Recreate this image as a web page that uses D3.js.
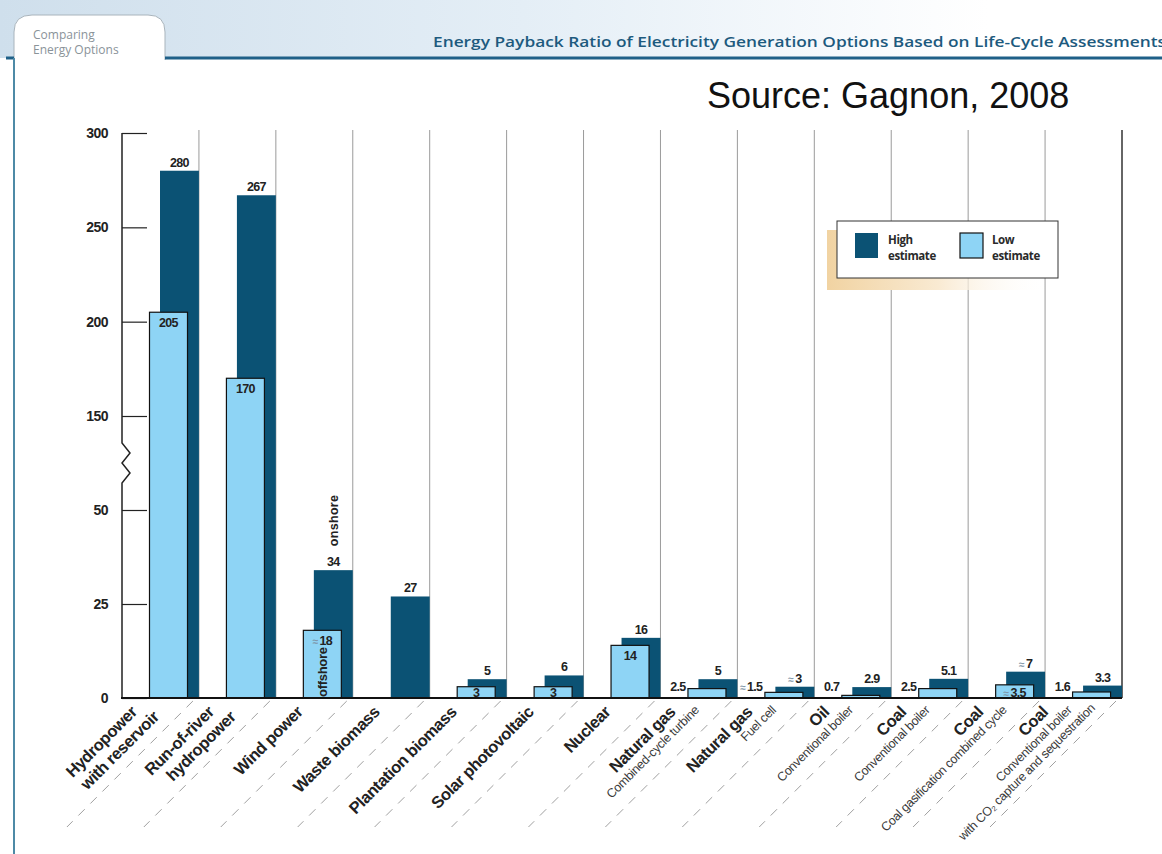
<!DOCTYPE html>
<meta charset="utf-8">
<script src="https://d3js.org/d3.v7.min.js"></script>
<style>
    body { margin: 0; background: #fff; }
    text { font-family: "Liberation Sans", Arial, sans-serif; }
</style>
<div id="vis"></div>
<script>
    // data
    var categories = ["hydroRes", "runRiver", "wind", "wasteBio", "plantBio", "solarPV",
        "nuclear", "gasCC", "gasFC", "oil", "coal", "coalIGCC", "coalCCS"];
    var titleLines = [["Hydropower", "with reservoir"], ["Run-of-river", "hydropower"], ["Wind power"],
        ["Waste biomass"], ["Plantation biomass"], ["Solar photovoltaic"], ["Nuclear"],
        ["Natural gas"], ["Natural gas"], ["Oil"], ["Coal"], ["Coal"], ["Coal"]];
    var subLines = [[], [], [], [], [], [], [], ["Combined-cycle turbine"], ["Fuel cell"],
        ["Conventional boiler"], ["Conventional boiler"], ["Coal gasification combined cycle"],
        ["Conventional boiler", "with CO\u2082 capture and sequestration"]];
    var highValues = [280, 267, 34, 27, 5, 6, 16, 5, 3, 2.9, 5.1, 7, 3.3];
    var lowValues = [205, 170, 18, null, 3, 3, 14, 2.5, 1.5, 0.7, 2.5, 3.5, 1.6];
    var highApprox = [0, 0, 0, 0, 0, 0, 0, 0, 1, 0, 0, 1, 0];
    var lowApprox = [0, 0, 1, 0, 0, 0, 0, 0, 1, 0, 0, 1, 0];
    var yTicks = [0, 25, 50, 150, 200, 250, 300];

    var dark = "#0b5274", light = "#8ed4f5";

    var W = 1162, H = 854;
    var svg = d3.select("#vis").append("svg")
        .attr("width", W).attr("height", H);
    var defs = svg.append("defs");

    // header
    var hg = defs.append("linearGradient").attr("id", "sky");
    hg.append("stop").attr("offset", "0").attr("stop-color", "#cfdfec");
    hg.append("stop").attr("offset", "0.45").attr("stop-color", "#e4eef6");
    hg.append("stop").attr("offset", "0.85").attr("stop-color", "#ffffff");
    svg.append("rect").attr("x", 0).attr("y", 0).attr("width", W).attr("height", 58)
        .attr("fill", "url(#sky)");
    svg.append("path")
        .attr("d", "M14,60 L14,32 Q14,15 32,15 L148,15 Q165,15 165,32 L165,60")
        .attr("fill", "#fff").attr("stroke", "#a9b4bc").attr("stroke-width", 1);
    svg.append("line").attr("x1", 165).attr("x2", W).attr("y1", 58).attr("y2", 58)
        .attr("stroke", "#1f6088").attr("stroke-width", 3);
    svg.append("line").attr("x1", 6).attr("x2", 14).attr("y1", 58).attr("y2", 58)
        .attr("stroke", "#1f6088").attr("stroke-width", 3);
    svg.append("line").attr("x1", 14).attr("x2", 14).attr("y1", 58).attr("y2", H)
        .attr("stroke", "#4d8aa6").attr("stroke-width", 2);
    svg.append("text").attr("x", 33).attr("y", 39).text("Comparing")
        .style("font-family", "Open Sans").style("font-size", "12px").attr("fill", "#8a9399");
    svg.append("text").attr("x", 33).attr("y", 54).text("Energy Options")
        .style("font-family", "Open Sans").style("font-size", "12px").attr("fill", "#8a9399");
    svg.append("text").attr("x", 433).attr("y", 47)
        .text("Energy Payback Ratio of Electricity Generation Options Based on Life-Cycle Assessments")
        .attr("textLength", 733).attr("lengthAdjust", "spacingAndGlyphs")
        .style("font-family", "Open Sans").style("font-weight", 600).style("font-size", "15px")
        .attr("fill", "#1d5a7e");
    svg.append("text").attr("x", 707).attr("y", 108).text("Source: Gagnon, 2008")
        .style("font-size", "36px").attr("fill", "#111");

    // scales
    var x = d3.scaleBand().domain(categories).range([122, 1122]).padding(0);
    var bw = x.bandwidth();
    var y = d3.scaleLinear().domain([0, 50, 150, 300]).range([698, 510, 416, 133]);

    // vertical grid lines at the right edge of each band
    svg.append("g").selectAll("line").data(categories).enter().append("line")
        .attr("x1", function (d) { return x(d) + bw; })
        .attr("x2", function (d) { return x(d) + bw; })
        .attr("y1", 130).attr("y2", 698)
        .attr("stroke", function (d, i) { return i == categories.length - 1 ? "#333" : "#9a9a9a"; })
        .attr("stroke-width", function (d, i) { return i == categories.length - 1 ? 1.5 : 1; });

    // legend
    var lg = defs.append("linearGradient").attr("id", "shadow");
    lg.append("stop").attr("offset", "0").attr("stop-color", "#f1d3a2");
    lg.append("stop").attr("offset", "0.5").attr("stop-color", "#f9ead2");
    lg.append("stop").attr("offset", "1").attr("stop-color", "#fff").attr("stop-opacity", 0);
    svg.append("rect").attr("x", 827).attr("y", 230).attr("width", 222).attr("height", 60)
        .attr("fill", "url(#shadow)");
    svg.append("rect").attr("x", 837).attr("y", 221).attr("width", 221).attr("height", 57)
        .attr("fill", "#fff").attr("stroke", "#333").attr("stroke-width", 1);
    var legendItems = [["High", "estimate", dark, 855, 888], ["Low", "estimate", light, 960, 992]];
    legendItems.forEach(function (it) {
        svg.append("rect").attr("x", it[3]).attr("y", 233).attr("width", 23).attr("height", 25)
            .attr("fill", it[2]).attr("stroke", it[2] == light ? "#111" : "none").attr("stroke-width", 1.2);
        [it[0], it[1]].forEach(function (t, k) {
            svg.append("text").attr("x", it[4]).attr("y", 244 + k * 16).text(t)
                .style("font-family", "Open Sans").style("font-weight", 700).style("font-size", "11.5px")
                .style("letter-spacing", "-0.4px").attr("fill", "#2a2a2a");
        });
    });

    // bars
    var rows = categories.map(function (c, i) {
        return { c: c, hi: highValues[i], lo: lowValues[i], hiA: highApprox[i], loA: lowApprox[i] };
    });
    var gBars = svg.append("g");
    gBars.selectAll(".hi").data(rows).enter().append("rect").attr("class", "hi")
        .attr("x", function (d) { return x(d.c) + 38; })
        .attr("width", bw - 38)
        .attr("y", function (d) { return y(d.hi); })
        .attr("height", function (d) { return y(0) - y(d.hi); })
        .attr("fill", dark);
    gBars.selectAll(".lo").data(rows.filter(function (d) { return d.lo != null; })).enter()
        .append("rect").attr("class", "lo")
        .attr("x", function (d) { return x(d.c) + 27.5; })
        .attr("width", 38)
        .attr("y", function (d) { return y(d.lo); })
        .attr("height", function (d) { return y(0) - y(d.lo); })
        .attr("fill", light).attr("stroke", "#111").attr("stroke-width", 1.2);

    function addValue(sel, approx, val) {
        if (approx) {
            sel.append("tspan").text("\u2248 ").attr("fill", "#7d93a6").style("font-size", "10px");
        }
        sel.append("tspan").text(val);
    }

    // value labels
    rows.forEach(function (d) {
        var t = svg.append("text")
            .attr("x", x(d.c) + 38 + (bw - 38) / 2)
            .attr("y", y(d.hi) - 4)
            .attr("text-anchor", "middle")
            .style("font-weight", "bold").style("font-size", "12.5px").style("letter-spacing", "-0.7px")
            .attr("fill", "#222");
        addValue(t, d.hiA, d.hi);
        if (d.lo == null) return;
        var lt = svg.append("text")
            .style("font-weight", "bold").style("font-size", "12.5px").style("letter-spacing", "-0.7px")
            .attr("fill", "#222");
        if (d.lo >= 3) {
            lt.attr("x", x(d.c) + 27.5 + 19).attr("text-anchor", "middle")
                .attr("y", Math.min(y(d.lo) + 15, 697));
        } else {
            lt.attr("x", x(d.c) + 25).attr("text-anchor", "end").attr("y", 691);
        }
        addValue(lt, d.loA, d.lo);
    });

    // onshore / offshore notes on the wind bars
    svg.append("text").attr("transform", "translate(" + (x("wind") + 62) + "," + (y(34) - 24) + ") rotate(-90)")
        .text("onshore").style("font-weight", "bold").style("font-size", "12.5px")
        .style("letter-spacing", "0.3px").attr("fill", "#222");
    svg.append("text").attr("transform", "translate(" + (x("wind") + 51) + "," + 697 + ") rotate(-90)")
        .text("offshore").style("font-weight", "bold").style("font-size", "13px")
        .style("letter-spacing", "-0.3px").attr("fill", "#222");

    // y axis with break
    var yAxis = d3.axisLeft(y).tickValues(yTicks).tickSizeInner(-25).tickSizeOuter(0).tickPadding(14);
    var ga = svg.append("g").attr("transform", "translate(122,0)").call(yAxis);
    ga.select(".domain").remove();
    ga.selectAll(".tick line").attr("stroke", "#222").attr("stroke-width", 1.2);
    ga.selectAll(".tick text").style("font-family", "Liberation Sans, Arial")
        .style("font-weight", "bold").style("font-size", "14px").style("letter-spacing", "-0.5px")
        .attr("fill", "#222");
    var brk = d3.line()([[122, y(300)], [122, 443], [130, 453], [122, 463], [130, 473], [122, 483], [122, y(0)]]);
    svg.append("path").attr("d", brk).attr("fill", "none").attr("stroke", "#222").attr("stroke-width", 1.5);
    svg.append("line").attr("x1", 121).attr("x2", 1122).attr("y1", y(0)).attr("y2", y(0))
        .attr("stroke", "#111").attr("stroke-width", 2.2);

    // dashed leader lines under the axis
    svg.append("g").selectAll("line").data(categories).enter().append("line")
        .attr("x1", function (d) { return x(d) + bw - 6; })
        .attr("y1", 701)
        .attr("x2", function (d) { return x(d) + bw - 6 - 126; })
        .attr("y2", 827)
        .attr("stroke", "#a0a0a0").attr("stroke-width", 1)
        .attr("stroke-dasharray", "9,8");

    // category labels, rotated -45
    categories.forEach(function (c, i) {
        var lines = [];
        titleLines[i].forEach(function (t) { lines.push({ t: t, big: true }); });
        subLines[i].forEach(function (t) { lines.push({ t: t, big: false }); });
        var n = lines.length;
        var ax = x(c) + 28 - 12 * (n - 1), ay = 713;
        var g = svg.append("g").attr("transform", "translate(" + ax + "," + ay + ") rotate(-45)");
        var ly = 0, lx = 0;
        lines.forEach(function (l, k) {
            if (k > 0) {
                if (l.big) { ly += 19; lx += 12; }
                else { ly += 15; lx += 18; }
            }
            g.append("text").attr("x", lx).attr("y", ly).attr("text-anchor", "end").text(l.t)
                .style("font-weight", l.big ? "bold" : "normal")
                .style("font-size", l.big ? "16.5px" : "12.5px")
                .style("letter-spacing", l.big ? "-0.4px" : "-0.3px")
                .attr("fill", l.big ? "#222" : "#3a3a3a");
        });
    });
</script>
